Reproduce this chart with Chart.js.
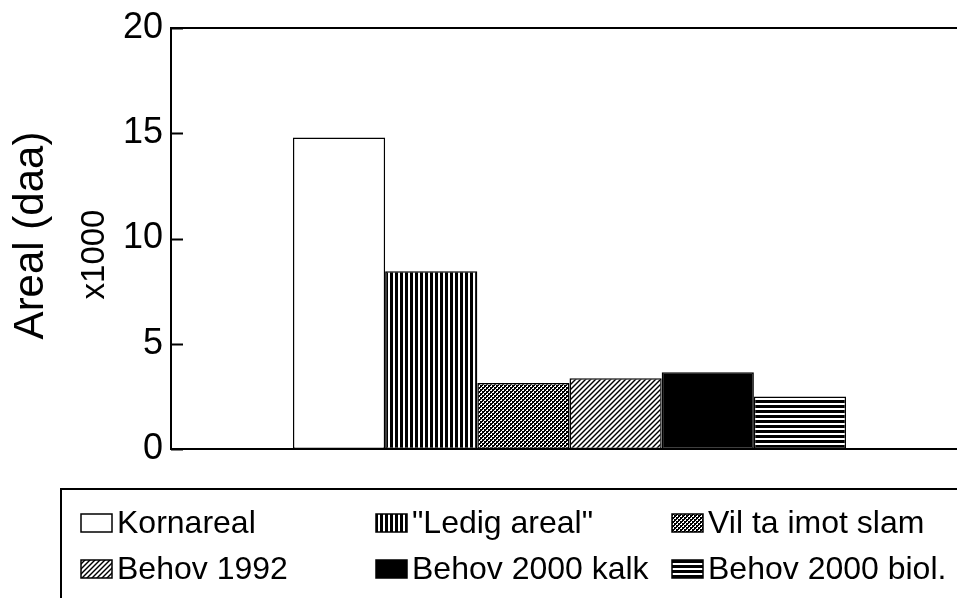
<!DOCTYPE html>
<html lang="no">
<head>
<meta charset="UTF-8">
<title>Areal (daa) x1000</title>
<style>
    html, body {
        margin: 0;
        padding: 0;
        background: #fff;
        overflow: hidden;
    }
    .chart-box {
        position: relative;
        width: 970px;
        height: 598px;
    }
</style>
</head>
<body>
<div class="chart-box">
    <canvas id="arealChart" width="970" height="598"></canvas>
</div>

<script src="https://cdn.jsdelivr.net/npm/chart.js"></script>
<script>
    // Data (daa x 1000)
    const categories = ['Areal'];
    const seriesNames = ['Kornareal', '"Ledig areal"', 'Vil ta imot slam', 'Behov 1992', 'Behov 2000 kalk', 'Behov 2000 biol.'];
    const seriesValues = [14.8, 8.45, 3.13, 3.36, 3.65, 2.5];
    const yTicks = [0, 5, 10, 15, 20];
    const yTitle = 'Areal (daa)';
    const yUnit = 'x1000';

    const FONT = '"Liberation Sans", Arial, Helvetica, sans-serif';
    Chart.defaults.font.family = FONT;
    Chart.defaults.color = '#000';

    const canvas = document.getElementById('arealChart');
    const ctx = canvas.getContext('2d');

    // small repeating tiles for the black & white fills
    function makePattern(w, h, draw) {
        const c = document.createElement('canvas');
        c.width = w;
        c.height = h;
        const g = c.getContext('2d');
        g.fillStyle = '#fff';
        g.fillRect(0, 0, w, h);
        g.fillStyle = '#000';
        g.strokeStyle = '#000';
        draw(g);
        return ctx.createPattern(c, 'repeat');
    }

    const fills = [
        '#fff',
        makePattern(5, 1, g => g.fillRect(0, 0, 3, 1)),
        makePattern(4, 4, g => {
            g.fillRect(0, 0, 4, 4);
            g.fillStyle = '#fff';
            g.fillRect(0, 0, 2, 1);
            g.fillRect(2, 2, 2, 1);
            g.fillRect(3, 1, 1, 1);
            g.fillRect(1, 3, 1, 1);
        }),
        makePattern(5, 5, g => {
            g.lineWidth = 1.4;
            for (let k = -5; k <= 5; k += 5) {
                g.beginPath();
                g.moveTo(k - 1, 6);
                g.lineTo(k + 6, -1);
                g.stroke();
            }
        }),
        '#000',
        makePattern(1, 5, g => g.fillRect(0, 0, 1, 3))
    ];

    // frame, inward ticks, axis titles and the boxed legend
    const decorations = {
        id: 'decorations',
        afterDraw(chart) {
            const c = chart.ctx;
            const a = chart.chartArea;
            const y = chart.scales.y;
            c.save();
            c.strokeStyle = '#000';
            c.lineWidth = 2;
            c.strokeRect(a.left, a.top, a.right - a.left, a.bottom - a.top);

            c.beginPath();
            yTicks.forEach(v => {
                const py = Math.round(y.getPixelForValue(v)) + 0.5;
                c.moveTo(a.left, py);
                c.lineTo(a.left + 12, py);
            });
            c.stroke();

            // axis title, two lines
            const mid = (a.top + a.bottom) / 2;
            c.fillStyle = '#000';
            c.textAlign = 'center';
            c.textBaseline = 'alphabetic';
            c.save();
            c.translate(43, mid - 3);
            c.rotate(-Math.PI / 2);
            c.font = '42px ' + FONT;
            c.fillText(yTitle, 0, 0);
            c.restore();
            c.save();
            c.translate(104, mid + 16);
            c.rotate(-Math.PI / 2);
            c.font = '33px ' + FONT;
            c.fillText(yUnit, 0, 0);
            c.restore();

            // legend box
            c.lineWidth = 2;
            c.strokeRect(61, 489, chart.width, 200);
            const colX = [81, 376, 672];
            const rowY = [523, 569];
            c.font = '32px ' + FONT;
            c.textAlign = 'left';
            c.textBaseline = 'middle';
            chart.data.datasets.forEach((ds, i) => {
                const x = colX[i % 3];
                const cy = rowY[Math.floor(i / 3)];
                c.fillStyle = ds.backgroundColor;
                c.fillRect(x, cy - 9, 31, 18);
                c.lineWidth = 1.5;
                c.strokeRect(x, cy - 9, 31, 18);
                c.fillStyle = '#000';
                c.fillText(ds.label, x + 36, cy + 1);
            });
            c.restore();
        }
    };

    new Chart(ctx, {
        type: 'bar',
        data: {
            labels: categories,
            datasets: seriesNames.map((name, i) => ({
                label: name,
                data: [seriesValues[i]],
                backgroundColor: fills[i],
                borderColor: '#000',
                borderWidth: 1.5,
                borderSkipped: false,
                barPercentage: 1,
                categoryPercentage: 0.694
            }))
        },
        options: {
            responsive: false,
            animation: false,
            layout: {
                padding: { top: 28, right: 2, bottom: 149, left: 0 }
            },
            plugins: {
                legend: { display: false },
                tooltip: { enabled: false }
            },
            scales: {
                x: { display: false },
                y: {
                    min: 0,
                    max: 20,
                    afterBuildTicks: s => { s.ticks = yTicks.map(v => ({ value: v })); },
                    afterFit: s => { s.width = 171; },
                    ticks: { font: { size: 36 }, color: '#000', padding: 0 },
                    grid: { display: false },
                    border: { display: false }
                }
            }
        },
        plugins: [decorations]
    });
</script>
</body>
</html>
